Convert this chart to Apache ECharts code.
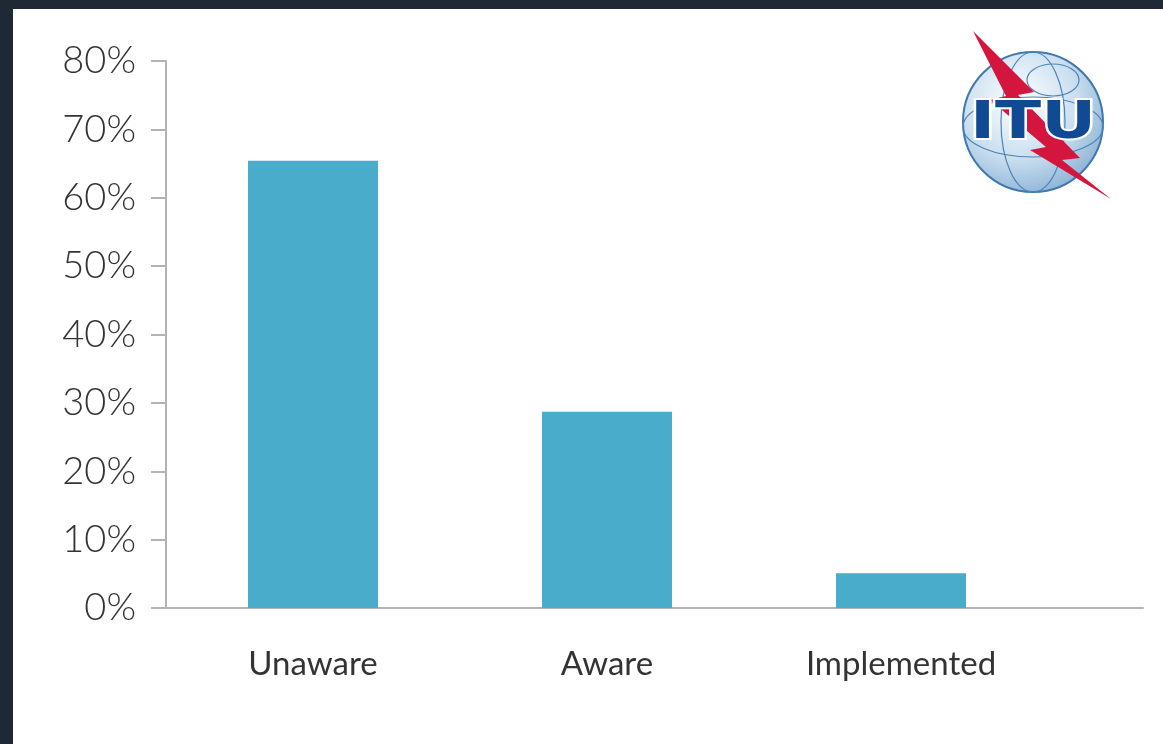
<!DOCTYPE html>
<html>
<head>
<meta charset="utf-8">
<script src="https://cdn.jsdelivr.net/npm/echarts@6/dist/echarts.min.js"></script>
<style>
html,body{margin:0;padding:0;background:#1f2835;width:1163px;height:744px;overflow:hidden;}
#chart{position:absolute;left:13px;top:9px;width:1150px;height:735px;background:#ffffff;}
</style>
</head>
<body>
<div id="chart"></div>
<script>
const categories = ['Unaware', 'Aware', 'Implemented'];
const values = [65.4, 28.7, 5.1];
const yMin = 0, yMax = 80, yStep = 10;

const chart = echarts.init(document.getElementById('chart'));
const axisColor = '#b3b3b3';
const font = 'Lato, "Open Sans", sans-serif';

// logo decoration (container coordinates)
const ox = 13, oy = 9;
const bolt = [[973,31],[1034,92],[1018,95],[1080,158],[1062,160],[1111,199],[1030,150],[1046,147],[990,100],[1006,96]]
  .map(p => [p[0] - ox, p[1] - oy]);
const cx = 1033 - ox, cy = 122 - oy;

chart.setOption({
  animation: false,
  grid: [
    {left: 153, right: 115, top: 52, bottom: 136},
    {left: 153, right: 20, top: 52, bottom: 136}
  ],
  xAxis: [
    {
      type: 'category', gridIndex: 0, data: categories,
      axisLine: {show: false}, axisTick: {show: false},
      axisLabel: {margin: 40, fontSize: 33, color: '#333', fontFamily: font}
    },
    {
      type: 'value', gridIndex: 1, min: 0, max: 1,
      axisLine: {show: true, onZero: false, lineStyle: {color: axisColor, width: 2}},
      axisTick: {show: false}, axisLabel: {show: false}, splitLine: {show: false}
    }
  ],
  yAxis: [
    {
      type: 'value', gridIndex: 0, min: yMin, max: yMax, interval: yStep,
      axisLine: {show: true, lineStyle: {color: axisColor, width: 2}},
      axisTick: {show: true, length: 15, lineStyle: {color: axisColor, width: 2}},
      splitLine: {show: false},
      axisLabel: {formatter: '{value}%', margin: 30, fontSize: 38, color: '#333', fontFamily: font, fontWeight: 300}
    },
    {
      type: 'value', gridIndex: 1, min: yMin, max: yMax, show: false
    }
  ],
  series: [{
    type: 'bar', xAxisIndex: 0, yAxisIndex: 0,
    data: values, barWidth: 130,
    itemStyle: {color: '#49acca'}
  }],
  graphic: [
    {
      type: 'group', x: 0, y: 0,
      children: [
        {type: 'circle', shape: {cx: cx, cy: cy, r: 70},
          style: {fill: new echarts.graphic.RadialGradient(0.4, 0.35, 0.75, [{offset: 0, color: '#ffffff'}, {offset: 0.55, color: '#c9deef'}, {offset: 1, color: '#7fa9d0'}]), stroke: '#3f78b0', lineWidth: 2}},
        {type: 'ellipse', shape: {cx: cx, cy: cy, rx: 32, ry: 70}, style: {fill: 'none', stroke: '#4d83b8', lineWidth: 1.2}},
        {type: 'ellipse', shape: {cx: cx, cy: cy + 5, rx: 70, ry: 30}, style: {fill: 'none', stroke: '#4d83b8', lineWidth: 1.2}},
        {type: 'ellipse', shape: {cx: cx + 20, cy: cy - 42, rx: 26, ry: 16}, style: {fill: 'none', stroke: '#4d83b8', lineWidth: 1.2}},
        {type: 'polygon', shape: {points: bolt}, style: {fill: '#d4163f'}},
        {type: 'text', x: cx, y: cy + 2, scaleX: 1.3, originX: 0, originY: 0,
          style: {text: 'ITU', fill: '#0f4a93', stroke: '#ffffff', lineWidth: 4, font: 'bold 52px "DejaVu Sans", sans-serif', align: 'center', verticalAlign: 'middle'}, z: 10}
      ]
    }
  ]
});
</script>
</body>
</html>
